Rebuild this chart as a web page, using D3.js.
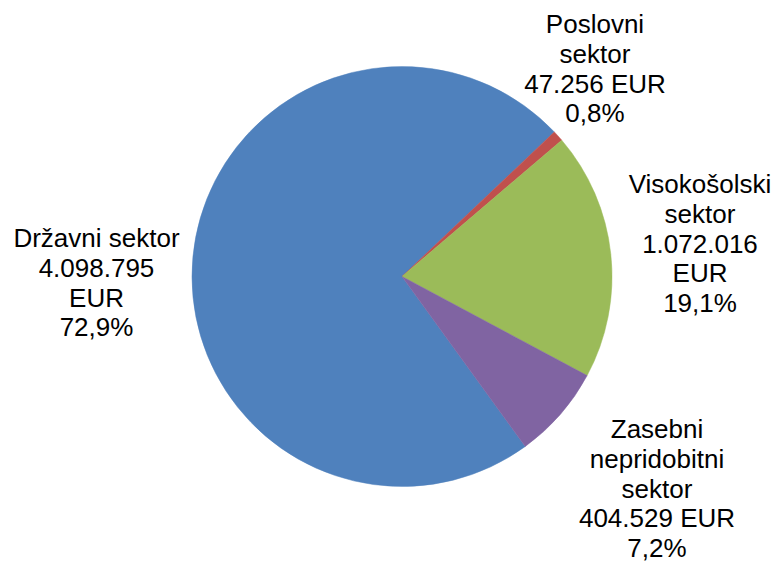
<!DOCTYPE html>
<html>
<head>
<meta charset="utf-8">
<script src="https://cdn.jsdelivr.net/npm/d3@7"></script>
<style>
  html, body { margin: 0; padding: 0; background: #ffffff; }
  svg { display: block; }
</style>
</head>
<body>
<svg id="chart" width="779" height="566"></svg>
<script>
// ---- data ----
const categories = ["Državni sektor", "Poslovni sektor", "Visokošolski sektor", "Zasebni nepridobitni sektor"];
const values = [4098795, 47256, 1072016, 404529];
const colors = ["#4F81BD", "#C0504D", "#9BBB59", "#8064A2"];
const unit = "EUR";

// ---- label layout (line wrapping & placement) ----
const nameLines = [["Državni sektor"], ["Poslovni", "sektor"], ["Visokošolski", "sektor"], ["Zasebni", "nepridobitni", "sektor"]];
const splitUnit = [true, false, true, false];
const labelPos = [
  { x: 96.5, y: 247 },
  { x: 595, y: 33 },
  { x: 700, y: 193 },
  { x: 657, y: 438 }
];

const W = 779, H = 566;
const cx = 402, cy = 276.5, R = 210;
const startDeg = 144.06;

const loc = d3.formatLocale({ decimal: ",", thousands: ".", grouping: [3], currency: ["", ""] });
const fmtInt = loc.format(",d");
const fmtPct = loc.format(".1f");

const svg = d3.select("#chart");
const total = d3.sum(values);

const data = categories.map((c, i) => ({ name: c, value: values[i], color: colors[i], i }));

const pie = d3.pie()
  .sort(null)
  .value(d => d.value)
  .startAngle(startDeg * Math.PI / 180)
  .endAngle(startDeg * Math.PI / 180 + 2 * Math.PI);

const arc = d3.arc().innerRadius(0).outerRadius(R);

const g = svg.append("g").attr("transform", `translate(${cx},${cy})`);
g.selectAll("path")
  .data(pie(data))
  .join("path")
  .attr("d", arc)
  .attr("fill", d => d.data.color)
  .attr("stroke", d => d.data.color)
  .attr("stroke-width", 0.5);

const lineH = 29.8;
data.forEach((d, i) => {
  const lines = nameLines[i].slice();
  const v = fmtInt(d.value);
  if (splitUnit[i]) { lines.push(v); lines.push(unit); }
  else lines.push(v + " " + unit);
  lines.push(fmtPct(d.value / total * 100) + "%");
  const t = svg.append("text")
    .attr("x", labelPos[i].x)
    .attr("y", labelPos[i].y)
    .attr("text-anchor", "middle")
    .attr("font-family", "'Liberation Sans', Arial, sans-serif")
    .attr("font-size", 26)
    .attr("fill", "#000000");
  lines.forEach((ln, k) => {
    t.append("tspan")
      .attr("x", labelPos[i].x)
      .attr("y", labelPos[i].y + k * lineH)
      .text(ln);
  });
});
</script>
</body>
</html>
